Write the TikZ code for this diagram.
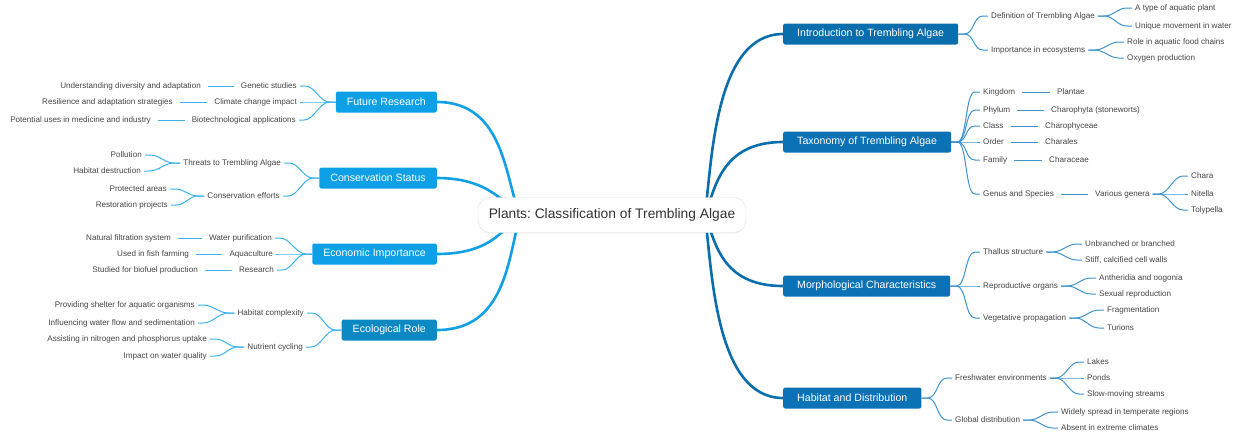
\documentclass[tikz,border=0pt]{standalone}
\usepackage{fontspec}
\setmainfont{Liberation Sans}
\frenchspacing
\usetikzlibrary{calc,shadows}
\definecolor{rmain}{HTML}{0A6EAD}
\definecolor{rbox}{HTML}{0B72B5}
\definecolor{rsub}{HTML}{3E93CC}
\definecolor{lmain}{HTML}{12A0E4}
\definecolor{lbox}{HTML}{0EA0E6}
\definecolor{lsub}{HTML}{3BB2EC}
\definecolor{txt}{HTML}{444444}
\pgfdeclarelayer{bg}
\pgfsetlayers{bg,main}
\tikzset{
 leafR/.style={anchor=west,inner sep=3pt,font=\fontsize{8.1}{9}\selectfont,text=txt},
 leafL/.style={anchor=east,inner sep=3pt,font=\fontsize{8.1}{9}\selectfont,text=txt},
 boxR/.style={anchor=west,fill=rbox,text=white,rounded corners=2pt,inner xsep=14pt,minimum height=21pt,font=\fontsize{10.6}{12}\selectfont},
 boxL/.style={anchor=east,fill=lbox,text=white,rounded corners=2pt,inner xsep=11pt,minimum height=21pt,font=\fontsize{10.6}{12}\selectfont},
 mainR/.style={draw=rmain,line width=2.6pt},
 mainL/.style={draw=lmain,line width=2.6pt},
 subR/.style={draw=rsub,line width=1pt},
 subL/.style={draw=lsub,line width=1pt},
}
\newcommand\forkR[2]{\draw[subR] (#1.east) -- ++(6,0) .. controls +(10,0) and +(-10,0) .. ($(#2.west)+(-5,0)$) -- (#2.west);}
\newcommand\forkL[2]{\draw[subL] (#1.west) -- ++(-6,0) .. controls +(-10,0) and +(10,0) .. ($(#2.east)+(5,0)$) -- (#2.east);}
\newcommand\lineR[2]{\draw[subR,shorten <=4pt,shorten >=4pt] (#1.east) -- (#2.west);}
\newcommand\lineL[2]{\draw[subL,shorten <=4pt,shorten >=4pt] (#1.west) -- (#2.east);}
\begin{document}
\begin{tikzpicture}[x=1pt,y=-1pt]
\useasboundingbox (0,0) rectangle (1240,432);
\node[draw=black!12,fill=white,rounded corners=12pt,minimum width=268pt,minimum height=35pt,font=\fontsize{13.8}{16}\selectfont,text=black!80,drop shadow={opacity=0.12,shadow xshift=0pt,shadow yshift=-1pt}] (c) at (612,215) {Plants: Classification of Trembling Algae};
\coordinate (cR) at (705,215);
\coordinate (cL) at (520,215);
% right boxes
\node[boxR,fill=rmain] (intro) at (783,34) {Introduction to Trembling Algae};
\node[boxR] (tax) at (783,142) {Taxonomy of Trembling Algae};
\node[boxR] (morph) at (783,286) {Morphological Characteristics};
\node[boxR] (hab) at (783,398) {Habitat and Distribution};
% left boxes
\node[boxL] (fut) at (437,102) {Future Research};
\node[boxL] (cons) at (437,178) {Conservation Status};
\node[boxL] (eco) at (437,254) {Economic Importance};
\node[boxL,fill=lbox!85!black] (ecol) at (437,330) {Ecological Role};
\begin{pgfonlayer}{bg}
\draw[mainR] (cR) .. controls (712,160) and (715,34) .. (intro.west);
\draw[mainR] (cR) .. controls (715,190) and (720,142) .. (tax.west);
\draw[mainR] (cR) .. controls (715,240) and (720,286) .. (morph.west);
\draw[mainR] (cR) .. controls (712,270) and (715,398) .. (hab.west);
\draw[mainL] (cL) .. controls (505,180) and (505,102) .. (fut.east);
\draw[mainL] (cL) .. controls (505,205) and (490,178) .. (cons.east);
\draw[mainL] (cL) .. controls (505,225) and (495,254) .. (eco.east);
\draw[mainL] (cL) .. controls (508,260) and (505,330) .. (ecol.east);
\end{pgfonlayer}
% intro
\node[leafR] (def) at (988,16) {Definition of Trembling Algae};
\node[leafR] (imp) at (988,50) {Importance in ecosystems};
\node[leafR] (typ) at (1132,8) {A type of aquatic plant};
\node[leafR] (uni) at (1132,26) {Unique movement in water};
\node[leafR] (rol) at (1124,42) {Role in aquatic food chains};
\node[leafR] (oxy) at (1124,58) {Oxygen production};
\forkR{intro}{def}\forkR{intro}{imp}
\forkR{def}{typ}\forkR{def}{uni}
\forkR{imp}{rol}\forkR{imp}{oxy}
% taxonomy
\node[leafR] (kin) at (980,92) {Kingdom};
\node[leafR] (phy) at (980,110) {Phylum};
\node[leafR] (cla) at (980,126) {Class};
\node[leafR] (ord) at (980,142) {Order};
\node[leafR] (fam) at (980,160) {Family};
\node[leafR] (gen) at (980,194) {Genus and Species};
\node[leafR] (pla) at (1054,92) {Plantae};
\node[leafR] (cha) at (1048,110) {Charophyta (stoneworts)};
\node[leafR] (chy) at (1042,126) {Charophyceae};
\node[leafR] (chl) at (1042,142) {Charales};
\node[leafR] (chc) at (1046,160) {Characeae};
\node[leafR] (var) at (1092,194) {Various genera};
\node[leafR] (chr) at (1188,176) {Chara};
\node[leafR] (nit) at (1188,194) {Nitella};
\node[leafR] (tol) at (1188,210) {Tolypella};
\forkR{tax}{kin}\forkR{tax}{phy}\forkR{tax}{cla}\forkR{tax}{ord}\forkR{tax}{fam}\forkR{tax}{gen}
\lineR{kin}{pla}\lineR{phy}{cha}\lineR{cla}{chy}\lineR{ord}{chl}\lineR{fam}{chc}\lineR{gen}{var}
\forkR{var}{chr}\forkR{var}{nit}\forkR{var}{tol}
% morph
\node[leafR] (tha) at (980,252) {Thallus structure};
\node[leafR] (rep) at (980,286) {Reproductive organs};
\node[leafR] (veg) at (980,318) {Vegetative propagation};
\node[leafR] (unb) at (1082,244) {Unbranched or branched};
\node[leafR] (sti) at (1082,260) {Stiff, calcified cell walls};
\node[leafR] (ant) at (1096,278) {Antheridia and oogonia};
\node[leafR] (sex) at (1096,294) {Sexual reproduction};
\node[leafR] (fra) at (1104,310) {Fragmentation};
\node[leafR] (tur) at (1104,328) {Turions};
\forkR{morph}{tha}\forkR{morph}{rep}\forkR{morph}{veg}
\forkR{tha}{unb}\forkR{tha}{sti}\forkR{rep}{ant}\forkR{rep}{sex}\forkR{veg}{fra}\forkR{veg}{tur}
% habitat
\node[leafR] (fre) at (952,378) {Freshwater environments};
\node[leafR] (glo) at (952,420) {Global distribution};
\node[leafR] (lak) at (1084,362) {Lakes};
\node[leafR] (pon) at (1084,378) {Ponds};
\node[leafR] (slo) at (1084,394) {Slow-moving streams};
\node[leafR] (wid) at (1058,412) {Widely spread in temperate regions};
\node[leafR] (abs) at (1058,428) {Absent in extreme climates};
\forkR{hab}{fre}\forkR{hab}{glo}
\forkR{fre}{lak}\forkR{fre}{pon}\forkR{fre}{slo}\forkR{glo}{wid}\forkR{glo}{abs}
% future
\node[leafL] (gst) at (300,86) {Genetic studies};
\node[leafL] (cci) at (300,102) {Climate change impact};
\node[leafL] (bio) at (299,120) {Biotechnological applications};
\node[leafL] (und) at (204,86) {Understanding diversity and adaptation};
\node[leafL] (res) at (176,102) {Resilience and adaptation strategies};
\node[leafL] (pot) at (154,120) {Potential uses in medicine and industry};
\forkL{fut}{gst}\forkL{fut}{cci}\forkL{fut}{bio}
\lineL{gst}{und}\lineL{cci}{res}\lineL{bio}{pot}
% conservation
\node[leafL] (thr) at (284,163) {Threats to Trembling Algae};
\node[leafL] (cef) at (283,196) {Conservation efforts};
\node[leafL] (pol) at (145,155) {Pollution};
\node[leafL] (hde) at (144,171) {Habitat destruction};
\node[leafL] (pro) at (170,189) {Protected areas};
\node[leafL] (rst) at (171,205) {Restoration projects};
\forkL{cons}{thr}\forkL{cons}{cef}
\forkL{thr}{pol}\forkL{thr}{hde}\forkL{cef}{pro}\forkL{cef}{rst}
% economic
\node[leafL] (wat) at (275,238) {Water purification};
\node[leafL] (aqu) at (276,254) {Aquaculture};
\node[leafL] (rsr) at (277,270) {Research};
\node[leafL] (nat) at (174,238) {Natural filtration system};
\node[leafL] (fis) at (192,254) {Used in fish farming};
\node[leafL] (stu) at (201,270) {Studied for biofuel production};
\forkL{eco}{wat}\forkL{eco}{aqu}\forkL{eco}{rsr}
\lineL{wat}{nat}\lineL{aqu}{fis}\lineL{rsr}{stu}
% ecological
\node[leafL] (hco) at (307,313) {Habitat complexity};
\node[leafL] (nut) at (306,347) {Nutrient cycling};
\node[leafL] (prv) at (198,305) {Providing shelter for aquatic organisms};
\node[leafL] (inf) at (198,323) {Influencing water flow and sedimentation};
\node[leafL] (ass) at (210,339) {Assisting in nitrogen and phosphorus uptake};
\node[leafL] (iwq) at (210,356) {Impact on water quality};
\forkL{ecol}{hco}\forkL{ecol}{nut}
\forkL{hco}{prv}\forkL{hco}{inf}\forkL{nut}{ass}\forkL{nut}{iwq}
\end{tikzpicture}
\end{document}
